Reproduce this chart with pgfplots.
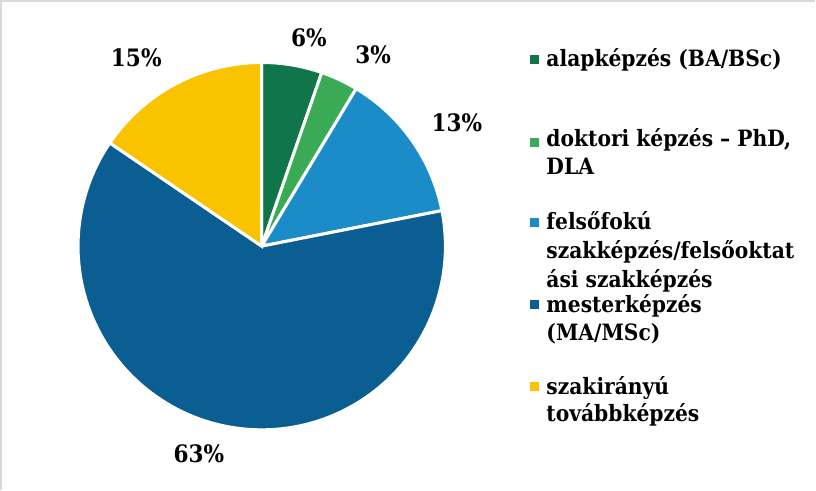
\documentclass[border=0pt]{standalone}
\usepackage{pgfplots}
\pgfplotsset{compat=1.18}
\usepackage{fontspec}
\setmainfont{DejaVu Serif Condensed}
\definecolor{cA}{HTML}{10764A}
\definecolor{cB}{HTML}{3AAA57}
\definecolor{cC}{HTML}{1B8CC8}
\definecolor{cD}{HTML}{0B5E91}
\definecolor{cE}{HTML}{FAC300}
\definecolor{frame}{HTML}{D9D9D9}
\begin{document}
\begin{tikzpicture}
\begin{axis}[
  scale only axis, width=816bp, height=492bp,
  xmin=0, xmax=816, ymin=0, ymax=492, y dir=reverse,
  hide axis, clip=false,
]
% shares (percent): 5.3, 3.3, 13.3, 62.6, 15.5 ; cumulative 0,5.3,8.6,21.9,84.5,100
\addplot[fill=cA, draw=white, line width=3bp, domain=0:5.3*3.6, samples=30] ({264.5+183*sin(x)},{249-183*cos(x)}) -- (axis cs:264.5,249) -- cycle;
\addplot[fill=cB, draw=white, line width=3bp, domain=5.3*3.6:8.6*3.6, samples=30] ({264.5+183*sin(x)},{249-183*cos(x)}) -- (axis cs:264.5,249) -- cycle;
\addplot[fill=cC, draw=white, line width=3bp, domain=8.6*3.6:21.9*3.6, samples=40] ({264.5+183*sin(x)},{249-183*cos(x)}) -- (axis cs:264.5,249) -- cycle;
\addplot[fill=cD, draw=white, line width=3bp, domain=21.9*3.6:84.5*3.6, samples=120] ({264.5+183*sin(x)},{249-183*cos(x)}) -- (axis cs:264.5,249) -- cycle;
\addplot[fill=cE, draw=white, line width=3bp, domain=84.5*3.6:100*3.6, samples=40] ({264.5+183*sin(x)},{249-183*cos(x)}) -- (axis cs:264.5,249) -- cycle;
% frame (top and left)
\draw[frame, line width=1.5bp] (axis cs:4.5,492) -- (axis cs:4.5,4.5) -- (axis cs:816,4.5);
% data labels
\begin{scope}[every node/.style={font=\fontsize{24}{28}\bfseries\selectfont, anchor=base, inner sep=0pt}]
\node at (axis cs:311.5,50) {6\%};
\node at (axis cs:375.5,67) {3\%};
\node at (axis cs:459,135) {13\%};
\node at (axis cs:202,465) {63\%};
\node at (axis cs:139.5,70) {15\%};
\end{scope}
% legend markers
\addplot[only marks, mark=square*, mark size=4bp, color=cA] coordinates {(535.5,62.5)};
\addplot[only marks, mark=square*, mark size=4bp, color=cB] coordinates {(535.5,145)};
\addplot[only marks, mark=square*, mark size=4bp, color=cC] coordinates {(535.5,225)};
\addplot[only marks, mark=square*, mark size=4bp, color=cD] coordinates {(535.5,307)};
\addplot[only marks, mark=square*, mark size=4bp, color=cE] coordinates {(535.5,389)};
% legend text
\begin{scope}[every node/.style={font=\fontsize{22.5}{27}\bfseries\selectfont, anchor=base west, inner sep=0pt}]
\node at (axis cs:548,70) {alapképzés (BA/BSc)};
\node at (axis cs:548,150) {doktori képzés – PhD,};
\node at (axis cs:548,178) {DLA};
\node at (axis cs:548,232) {felsőfokú};
\node at (axis cs:548,261.5) {szakképzés/felsőoktat};
\node at (axis cs:548,290) {ási szakképzés};
\node at (axis cs:548,315) {mesterképzés};
\node at (axis cs:548,343) {(MA/MSc)};
\node at (axis cs:548,397) {szakirányú};
\node at (axis cs:548,424) {továbbképzés};
\end{scope}
\end{axis}
\end{tikzpicture}
\end{document}
